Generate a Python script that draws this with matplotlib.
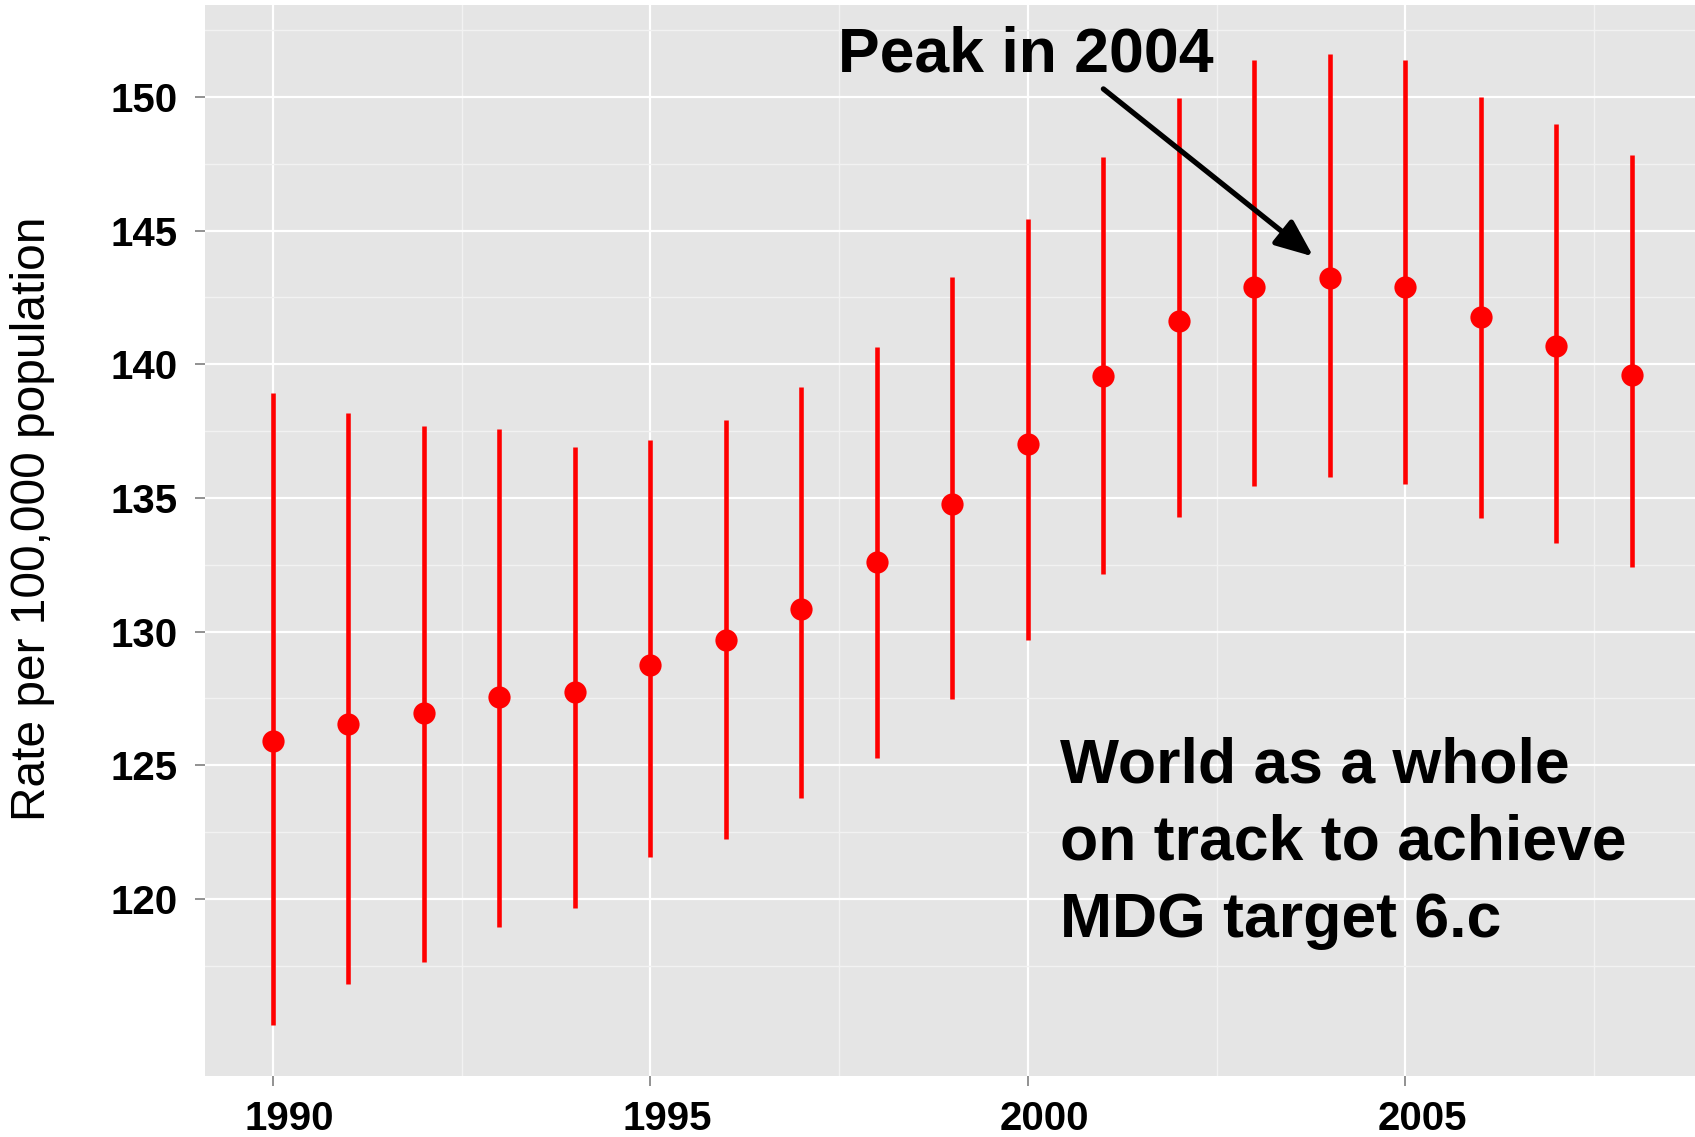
import matplotlib
matplotlib.use("Agg")
import matplotlib.pyplot as plt
import matplotlib.transforms as mtransforms

years = list(range(1990, 2009))
rate = [125.9, 126.55, 126.95, 127.55, 127.75, 128.75, 129.7, 130.86, 132.6, 134.78,
        137.0, 139.55, 141.62, 142.9, 143.24, 142.9, 141.77, 140.68, 139.6]
upper = [138.92, 138.18, 137.69, 137.57, 136.92, 137.16, 137.93, 139.14, 140.63, 143.26,
         145.42, 147.74, 149.96, 151.37, 151.6, 151.37, 150.0, 148.99, 147.82]
lower = [115.28, 116.81, 117.62, 118.95, 119.64, 121.58, 122.22, 123.76, 125.25, 127.46,
         129.67, 132.17, 134.3, 135.45, 135.77, 135.52, 134.23, 133.3, 132.42]

x_ticks = [1990, 1995, 2000, 2005]
y_ticks = [120, 125, 130, 135, 140, 145, 150]
ylabel = "Rate per 100,000 population"
note_peak = "Peak in 2004"
note_world = "World as a whole\non track to achieve\nMDG target 6.c"

W, H = 1695, 1137
dpi = 100
fig = plt.figure(figsize=(W / dpi, H / dpi), dpi=dpi)
plt.rcParams['font.family'] = ['Liberation Sans', 'DejaVu Sans']

left_px, right_px, top_px, bottom_px = 205, 1699.8, 5, 1076
ax = fig.add_axes([left_px / W, (H - bottom_px) / H, (right_px - left_px) / W, (bottom_px - top_px) / H])
ax.set_facecolor('#E5E5E5')
for s in ax.spines.values():
    s.set_visible(False)

ax.set_xlim(1989.1, 2008.9)
ax.set_ylim(113.37, 153.44)
ax.set_xticks(x_ticks)
ax.set_yticks(y_ticks)
ax.set_xticks([1992.5, 1997.5, 2002.5, 2007.5], minor=True)
ax.set_yticks([117.5, 122.5, 127.5, 132.5, 137.5, 142.5, 147.5, 152.5], minor=True)
ax.grid(which='major', color='white', lw=1.6, zorder=0)
ax.grid(which='minor', color='#F2F2F2', lw=1.0, zorder=0)
ax.set_axisbelow(True)
ax.tick_params(which='minor', length=0)
ax.tick_params(which='major', length=7, width=1.2, color='#7F7F7F', labelsize=29, pad=10)
ax.tick_params(axis='y', pad=13)
for lab in ax.get_xticklabels() + ax.get_yticklabels():
    lab.set_fontweight('bold')
offset = mtransforms.ScaledTranslation(12 / 72, 0, fig.dpi_scale_trans)
for lab in ax.get_xticklabels():
    lab.set_transform(lab.get_transform() + offset)

ax.vlines(years, lower, upper, color='#FF0000', lw=3.3, zorder=3)
ax.plot(years, rate, 'o', color='#FF0000', markersize=16, markeredgewidth=0, zorder=4)

ax.text(1997.48, 150.94, note_peak, fontsize=45, fontweight='bold', ha='left', va='baseline', zorder=5)
ax.annotate('', xy=(2003.78, 144.03), xytext=(2001.0, 150.3),
            arrowprops=dict(arrowstyle='-|>,head_length=1.2,head_width=0.5', mutation_scale=19,
                            lw=3.8, color='black', shrinkA=0, shrinkB=0), zorder=5)
ax.text(2000.42, 118.57, note_world, fontsize=45, fontweight='bold', ha='left', va='baseline',
        linespacing=1.4, zorder=5)

fig.text(33 / W, 1 - 519 / H, ylabel, rotation=90, fontsize=34.5, ha='center', va='center')

fig.savefig('out.png', dpi=dpi)
